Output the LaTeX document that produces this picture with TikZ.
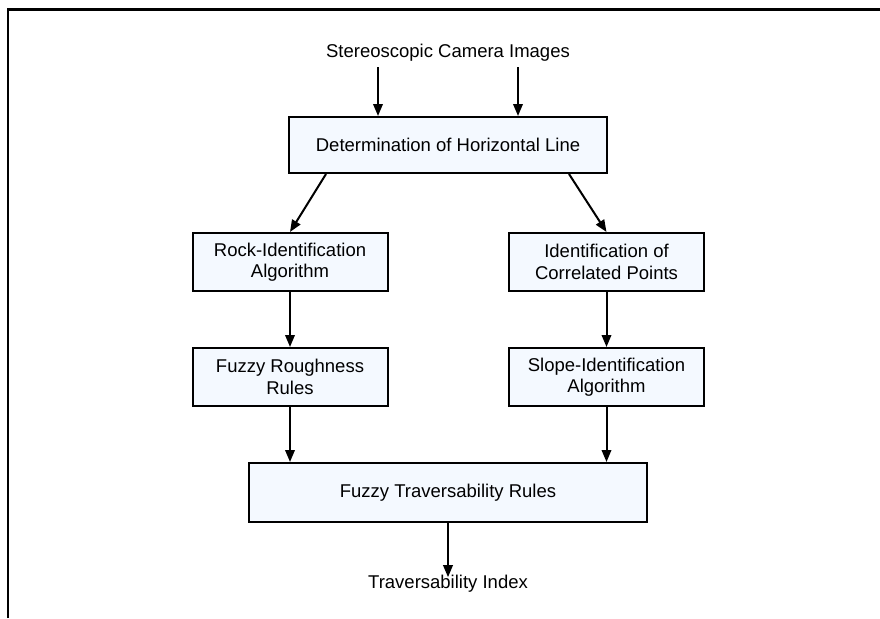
\documentclass[tikz,border=0pt]{standalone}
\usepackage{fontspec}
\setmainfont{Liberation Sans}
\usetikzlibrary{arrows.meta}
\definecolor{boxfill}{RGB}{244,249,255}
\tikzset{
  box/.style={draw=black, line width=2pt, fill=boxfill, align=center, inner sep=2pt,
    font=\fontsize{18.5}{21.5}\selectfont},
  lbl/.style={align=center, inner sep=0pt, font=\fontsize{18.5}{21.5}\selectfont},
  arr/.style={draw=black, line width=2pt, -{Triangle[length=12pt,width=9.5pt]}},
}
\begin{document}
\begin{tikzpicture}[x=1pt,y=-1pt]
\useasboundingbox (0,0) rectangle (880,618);
% frame
\draw[line width=2.4pt] (8,618) -- (8,9.5) -- (880,9.5);

\node[lbl] (src) at (448,53) {Stereoscopic Camera Images};
\node[box, minimum width=318pt, minimum height=56pt] (det) at (448,145) {Determination of Horizontal Line};
\node[box, minimum width=195pt, minimum height=58pt] (rock) at (290,262) {Rock-Identification\\Algorithm};
\node[box, minimum width=195pt, minimum height=58pt] (ident) at (606.5,262) {Identification of\\Correlated Points};
\node[box, minimum width=195pt, minimum height=58pt] (rough) at (290,377) {Fuzzy Roughness\\Rules};
\node[box, minimum width=195pt, minimum height=58pt] (slope) at (606.5,377) {Slope-Identification\\Algorithm};
\node[box, minimum width=398pt, minimum height=59pt] (trav) at (448,492.5) {Fuzzy Traversability Rules};
\node[lbl] (out) at (448,584) {Traversability Index};

\coordinate (s1) at (378,67);
\coordinate (s2) at (518,67);
\draw[arr] (s1) -- (s1 |- det.north);
\draw[arr] (s2) -- (s2 |- det.north);
\draw[arr] ([xshift=38pt]det.south west) -- (rock.north);
\draw[arr] ([xshift=-39pt]det.south east) -- (ident.north);
\draw[arr] (rock) -- (rough);
\draw[arr] (ident) -- (slope);
\draw[arr] (rough.south) -- (rough.south |- trav.north);
\draw[arr] (slope.south) -- (slope.south |- trav.north);
\draw[arr] (trav.south) -- ([yshift=-2pt]out.north);
\end{tikzpicture}
\end{document}
